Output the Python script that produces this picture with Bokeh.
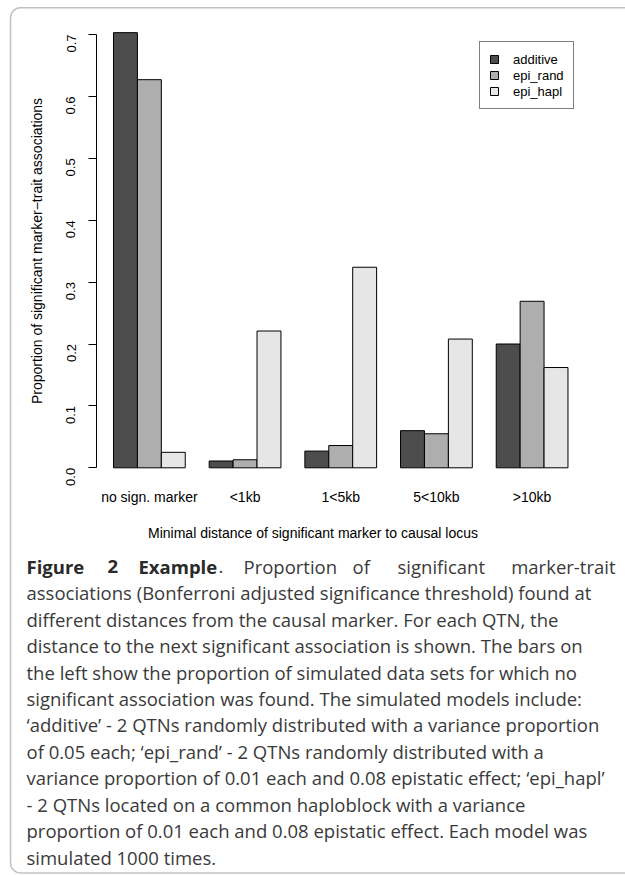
import math
from bokeh.plotting import figure
from bokeh.models import (Range1d, LinearAxis, FixedTicker, PrintfTickFormatter,
                          Label, Legend, LegendItem, BoxAnnotation)
from bokeh.embed import file_html
from bokeh.resources import INLINE

# ---------------- data ----------------
categories = ["no sign. marker", "<1kb", "1<5kb", "5<10kb", ">10kb"]
series_names = ["additive", "epi_rand", "epi_hapl"]
additive = [0.703, 0.011, 0.027, 0.060, 0.200]
epi_rand = [0.627, 0.013, 0.036, 0.055, 0.269]
epi_hapl = [0.025, 0.221, 0.324, 0.208, 0.162]
series_values = [additive, epi_rand, epi_hapl]
series_colors = ["#4D4D4D", "#AEAEAE", "#E6E6E6"]
y_ticks = [0.0, 0.1, 0.2, 0.3, 0.4, 0.5, 0.6, 0.7]

y_title = "Proportion of significant marker\u2212trait associations"
x_title = "Minimal distance of significant marker to causal locus"

caption_head_bold = ["Figure", "2", "Example"]
caption_head_rest = [".", "Proportion", "of", "significant", "marker-trait"]
caption_lines = [
    "associations (Bonferroni adjusted significance threshold) found at",
    "different distances from the causal marker. For each QTN, the",
    "distance to the next significant association is shown. The bars on",
    "the left show the proportion of simulated data sets for which no",
    "significant association was found. The simulated models include:",
    "\u2018additive\u2019 - 2 QTNs randomly distributed with a variance proportion",
    "of 0.05 each; \u2018epi_rand\u2019 - 2 QTNs randomly distributed with a",
    "variance proportion of 0.01 each and 0.08 epistatic effect; \u2018epi_hapl\u2019",
    "- 2 QTNs located on a common haploblock with a variance",
    "proportion of 0.01 each and 0.08 epistatic effect. Each model was",
    "simulated 1000 times.",
]

# ---------------- geometry (canvas px) ----------------
W, H = 625, 875
PX_U = 23.92          # px per bar unit
U_LEFT = -89.08 / PX_U
PX_V = 619.0          # px per 1.0 proportion
V_TOP = 467.3 / PX_V
X0, X1 = U_LEFT, U_LEFT + W / PX_U
Y1 = V_TOP
Y0 = V_TOP - H / PX_V


def dx(cx):
    return X0 + cx / PX_U


def dy(cy):
    return Y1 - cy / PX_V


CHART_FONT = "Liberation Sans"
CAP_FONT = "Open Sans"
CAP_SIZE = "18.5px"

p = figure(width=W, height=H, x_range=Range1d(X0, X1), y_range=Range1d(Y0, Y1),
           output_backend="svg", toolbar_location=None,
           x_axis_type=None, y_axis_type=None, min_border=0,
           outline_line_color=None, background_fill_color="white",
           border_fill_color="white")
p.min_border_left = p.min_border_right = p.min_border_top = p.min_border_bottom = 0

# ---------------- bars ----------------
n_series = len(series_names)
group_w = n_series + 1
renderers = []
for k, (vals, col) in enumerate(zip(series_values, series_colors)):
    xs = [1 + group_w * i + k + 0.5 for i in range(len(categories))]
    r = p.vbar(x=xs, top=vals, bottom=0, width=1, fill_color=col,
               line_color="black", line_width=1)
    renderers.append(r)

centers = [1 + group_w * i + n_series / 2 for i in range(len(categories))]

# ---------------- axes ----------------
yax = LinearAxis(fixed_location=dx(95.5), bounds=(0, 0.7),
                 ticker=FixedTicker(ticks=y_ticks),
                 formatter=PrintfTickFormatter(format="%.1f"),
                 major_tick_out=8, major_tick_in=0,
                 minor_tick_out=0, minor_tick_in=0,
                 major_label_orientation=math.pi / 2,
                 major_label_standoff=17,
                 major_label_text_font=CHART_FONT,
                 major_label_text_font_size="13px",
                 major_label_text_color="black",
                 axis_line_color="black", major_tick_line_color="black",
                 axis_label=y_title, axis_label_standoff=15,
                 axis_label_text_font=CHART_FONT,
                 axis_label_text_font_size="14px",
                 axis_label_text_font_style="normal",
                 axis_label_text_color="black")
p.add_layout(yax, "left")

xax = LinearAxis(fixed_location=0, ticker=FixedTicker(ticks=centers),
                 major_label_overrides={c: name for c, name in zip(centers, categories)},
                 axis_line_color=None, major_tick_line_color=None,
                 minor_tick_line_color=None,
                 major_tick_out=0, major_tick_in=0,
                 minor_tick_out=0, minor_tick_in=0,
                 major_label_standoff=21,
                 major_label_text_font=CHART_FONT,
                 major_label_text_font_size="14px",
                 major_label_text_color="black",
                 axis_label=x_title, axis_label_standoff=17,
                 axis_label_text_font=CHART_FONT,
                 axis_label_text_font_size="14px",
                 axis_label_text_font_style="normal",
                 axis_label_text_color="black")
p.add_layout(xax, "below")

# ---------------- legend ----------------
legend = Legend(items=[LegendItem(label=n, renderers=[r]) for n, r in zip(series_names, renderers)],
                location=(479, H - 109), orientation="vertical",
                border_line_color="black", border_line_width=1,
                background_fill_color="white", background_fill_alpha=1,
                padding=9, spacing=0, margin=0,
                glyph_width=10, glyph_height=10, label_standoff=14,
                label_height=16, label_text_font=CHART_FONT,
                label_text_font_size="13px", label_text_color="black")
p.add_layout(legend)

# ---------------- caption ----------------
LINE0 = 565.7
LINE_STEP = 26.45
head_x_bold = [26, 107, 138]
for word, cx in zip(caption_head_bold, head_x_bold):
    p.add_layout(Label(x=dx(cx), y=dy(LINE0), text=word, text_font=CAP_FONT,
                       text_font_size=CAP_SIZE, text_font_style="bold",
                       text_color="#2a2a2a", text_baseline="middle", text_align="left"))
head_x_rest = [218, 243, 352, 397, 615]
for j, (word, cx) in enumerate(zip(caption_head_rest, head_x_rest)):
    p.add_layout(Label(x=dx(cx), y=dy(LINE0), text=word, text_font=CAP_FONT,
                       text_font_size=CAP_SIZE, text_color="#3a3a3a",
                       text_baseline="middle",
                       text_align="right" if j == len(caption_head_rest) - 1 else "left"))

for i, line in enumerate(caption_lines, start=1):
    p.add_layout(Label(x=dx(26), y=dy(LINE0 + LINE_STEP * i), text=line,
                       text_font=CAP_FONT, text_font_size=CAP_SIZE,
                       text_color="#3a3a3a", text_baseline="middle",
                       text_align="left"))

# ---------------- frame border ----------------
p.add_layout(BoxAnnotation(left=dx(10), right=dx(W + 60), top=dy(7.3), bottom=dy(872.5),
                           fill_alpha=0, line_color="#333333", line_width=1.5,
                           border_radius=10))

open("out.html", "w").write(file_html(p, INLINE))
